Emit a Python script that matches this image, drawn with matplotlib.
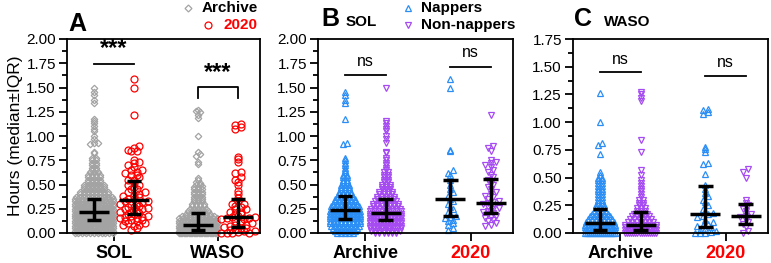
import matplotlib
matplotlib.use('Agg')
import matplotlib.pyplot as plt
from matplotlib.lines import Line2D
from matplotlib.ticker import MultipleLocator, FormatStrFormatter
import numpy as np

plt.rcParams['font.family'] = ['Liberation Sans', 'DejaVu Sans']

# ---- data (hours) ----
# dense columns are given as value levels + how many points sit on each level
lvl_b_arch = [0.0, 0.025, 0.05, 0.075, 0.1, 0.125, 0.15, 0.175, 0.2, 0.225, 0.25, 0.275, 0.3, 0.325, 0.35,
              0.375, 0.4, 0.425, 0.45, 0.475, 0.5, 0.525, 0.55, 0.575, 0.6, 0.625, 0.65, 0.675, 0.7, 0.725,
              0.75, 0.775]
cnt_sol_arch_nap = [5, 6, 7, 8, 9, 9, 9, 9, 9, 9, 8, 8, 7, 6, 6,
                    5, 4, 4, 3, 3, 3, 2, 2, 2, 2, 1, 1, 1, 1, 1,
                    1, 1]
out_sol_arch_nap = [0.92, 0.93, 1.18, 1.34, 1.37, 1.42, 1.45]
cnt_sol_arch_non = [6, 8, 9, 10, 10, 10, 10, 10, 9, 9, 8, 7, 7, 6, 5,
                    5, 4, 4, 3, 3, 3, 2, 2, 2, 2, 2, 1, 1, 1, 1,
                    1, 1]
out_sol_arch_non = [0.82, 0.84, 0.93, 0.97, 1.0, 1.05, 1.07, 1.1, 1.13, 1.15, 1.5]
sol_2020_nap = [0.03, 0.05, 0.08, 0.1, 0.12, 0.13, 0.15, 0.17, 0.18, 0.2, 0.22, 0.25, 0.27, 0.3,
                0.33, 0.35, 0.38, 0.42, 0.45, 0.5, 0.55, 0.6, 0.62, 0.65, 0.85, 0.86, 1.5, 1.59]
sol_2020_non = [0.07, 0.08, 0.1, 0.12, 0.13, 0.15, 0.17, 0.18, 0.2, 0.21, 0.22, 0.23, 0.25, 0.26,
                0.27, 0.28, 0.3, 0.31, 0.32, 0.33, 0.35, 0.37, 0.38, 0.4, 0.42, 0.45, 0.47, 0.5,
                0.52, 0.55, 0.58, 0.6, 0.63, 0.65, 0.68, 0.7, 0.72, 0.73, 0.75, 0.85, 0.88, 0.9, 1.22]

lvl_c_arch = [0.0, 0.025, 0.05, 0.075, 0.1, 0.125, 0.15, 0.175, 0.2, 0.225, 0.25, 0.275, 0.3, 0.325,
              0.35, 0.375, 0.4, 0.425, 0.45, 0.475, 0.5, 0.525, 0.55]
cnt_waso_arch_nap = [16, 14, 12, 10, 8, 7, 6, 5, 4, 3, 3, 2, 2, 2, 2, 2, 2, 2, 2, 2, 2, 1, 1]
out_waso_arch_nap = [0.71, 0.79, 0.81, 1.0, 1.26]
cnt_waso_arch_non = [16, 14, 12, 9, 7, 6, 5, 4, 3, 3, 2, 2, 2, 1, 1, 1, 1, 1, 1, 0, 0, 0, 0]
out_waso_arch_non = [0.48, 0.52, 0.57, 0.73, 0.84, 1.19, 1.22, 1.25, 1.27]
waso_2020_nap = [0.0, 0.0, 0.0, 0.01, 0.02, 0.03, 0.04, 0.05, 0.06, 0.07, 0.08, 0.1, 0.12, 0.14,
                 0.15, 0.17, 0.18, 0.2, 0.22, 0.25, 0.28, 0.3, 0.33, 0.36, 0.4, 0.43, 0.53, 0.62,
                 0.63, 0.73, 0.76, 0.78, 1.07, 1.09, 1.11, 1.12]
waso_2020_non = [0.0, 0.02, 0.05, 0.08, 0.1, 0.12, 0.14, 0.15, 0.17, 0.2, 0.22, 0.25, 0.27, 0.3,
                 0.5, 0.55, 0.58]

# median, Q1, Q3 as printed
stats_a = [(0.22, 0.13, 0.35), (0.34, 0.20, 0.54), (0.08, 0.03, 0.21), (0.16, 0.06, 0.35)]
stats_b = [(0.24, 0.14, 0.38), (0.21, 0.13, 0.35), (0.35, 0.18, 0.55), (0.31, 0.21, 0.56)]
stats_c = [(0.09, 0.03, 0.22), (0.07, 0.03, 0.19), (0.17, 0.05, 0.42), (0.15, 0.08, 0.26)]

sol_arch_nap = np.concatenate([np.repeat(lvl_b_arch, cnt_sol_arch_nap), out_sol_arch_nap])
sol_arch_non = np.concatenate([np.repeat(lvl_b_arch, cnt_sol_arch_non), out_sol_arch_non])
waso_arch_nap = np.concatenate([np.repeat(lvl_c_arch, cnt_waso_arch_nap), out_waso_arch_nap])
waso_arch_non = np.concatenate([np.repeat(lvl_c_arch, cnt_waso_arch_non), out_waso_arch_non])

pos = [1, 2, 3.6, 4.6]
ticks = [1.5, 4.1]

GRAY = '#A3A3A3'
RED = '#FF0000'
BLUE = '#2B8EF5'
PURPLE = '#A64BF2'


def swarm(values, center, dx, hw, rowh):
    vals = np.asarray(values, float)
    rows = np.round(vals / rowh).astype(int)
    xs = np.empty_like(vals)
    for r in np.unique(rows):
        idx = np.where(rows == r)[0]
        n = len(idx)
        w = min((n - 1) * dx, 2 * hw)
        xs[idx] = center + np.linspace(-w / 2, w / 2, n)
    return xs


def draw_group(ax, values, center, color, marker, ms, dx, hw, rowh):
    xs = swarm(values, center, dx, hw, rowh)
    ax.plot(xs, values, ls='none', marker=marker, ms=ms, mfc='none', mec=color, mew=0.9,
            clip_on=False, zorder=2)


def draw_stats(ax, stats):
    for p, (med, q1, q3) in zip(pos, stats):
        ax.plot([p - 0.37, p + 0.37], [med, med], color='k', lw=2.5, zorder=5, solid_capstyle='butt')
        ax.plot([p, p], [q1, q3], color='k', lw=2.5, zorder=5, solid_capstyle='butt')
        for q in (q1, q3):
            ax.plot([p - 0.18, p + 0.18], [q, q], color='k', lw=2.5, zorder=5, solid_capstyle='butt')


def style(ax, ymax, labels, colors):
    ax.set_xlim(0.33, 5.15)
    ax.set_ylim(0, ymax)
    ax.yaxis.set_major_locator(MultipleLocator(0.25))
    ax.yaxis.set_minor_locator(MultipleLocator(0.125))
    ax.yaxis.set_major_formatter(FormatStrFormatter('%.2f'))
    ax.set_xticks(ticks)
    ax.set_xticklabels(labels, fontsize=13, fontweight='bold')
    for t, c in zip(ax.get_xticklabels(), colors):
        t.set_color(c)
    ax.tick_params(axis='y', which='major', length=6, width=1.3, labelsize=11, pad=2)
    ax.tick_params(axis='y', which='minor', length=3.5, width=1.3)
    ax.tick_params(axis='x', which='major', length=6, width=1.3, pad=2.5)
    for s in ax.spines.values():
        s.set_linewidth(1.3)


fig = plt.figure(figsize=(7.71, 2.63), dpi=100)
W, H = 771, 263
axA = fig.add_axes([67 / W, 30 / H, 193 / W, 194 / H])
axB = fig.add_axes([318 / W, 30 / H, 195 / W, 194 / H])
axC = fig.add_axes([573 / W, 30 / H, 195 / W, 194 / H])

# panel A: all subjects, archive vs 2020
draw_group(axA, np.concatenate([sol_arch_nap, sol_arch_non]), pos[0], GRAY, 'D', 3.3, 0.1, 0.48, 0.025)
draw_group(axA, sol_2020_nap + sol_2020_non, pos[1], RED, 'o', 5, 0.14, 0.42, 0.04)
draw_group(axA, np.concatenate([waso_arch_nap, waso_arch_non]), pos[2], GRAY, 'D', 3.3, 0.1, 0.48, 0.025)
draw_group(axA, waso_2020_nap + waso_2020_non, pos[3], RED, 'o', 5, 0.14, 0.42, 0.04)
draw_stats(axA, stats_a)
style(axA, 2.0, ['SOL', 'WASO'], ['k', 'k'])
axA.set_ylabel('Hours (median±IQR)', fontsize=12.5, labelpad=2)

# panel B: SOL split by napping
draw_group(axB, sol_arch_nap, pos[0], BLUE, '^', 4.6, 0.1, 0.38, 0.025)
draw_group(axB, sol_arch_non, pos[1], PURPLE, 'v', 4.6, 0.1, 0.38, 0.025)
draw_group(axB, sol_2020_nap, pos[2], BLUE, '^', 4.6, 0.13, 0.38, 0.04)
draw_group(axB, sol_2020_non, pos[3], PURPLE, 'v', 4.6, 0.13, 0.38, 0.04)
draw_stats(axB, stats_b)
style(axB, 2.0, ['Archive', '2020'], ['k', RED])

# panel C: WASO split by napping
draw_group(axC, waso_arch_nap, pos[0], BLUE, '^', 4.6, 0.1, 0.38, 0.025)
draw_group(axC, waso_arch_non, pos[1], PURPLE, 'v', 4.6, 0.1, 0.38, 0.025)
draw_group(axC, waso_2020_nap, pos[2], BLUE, '^', 4.6, 0.13, 0.38, 0.04)
draw_group(axC, waso_2020_non, pos[3], PURPLE, 'v', 4.6, 0.13, 0.38, 0.04)
draw_stats(axC, stats_c)
style(axC, 1.75, ['Archive', '2020'], ['k', RED])

# significance marks
axA.plot([pos[0], pos[1]], [1.74, 1.74], color='k', lw=1.3)
axA.text(1.5, 1.78, '***', ha='center', va='bottom', fontsize=17, fontweight='bold')
axA.plot([pos[2], pos[2], pos[3], pos[3]], [1.39, 1.505, 1.505, 1.39], color='k', lw=1.3)
axA.text(4.1, 1.54, '***', ha='center', va='bottom', fontsize=17, fontweight='bold')

axB.plot([pos[0], pos[1]], [1.625, 1.625], color='k', lw=1.3)
axB.text(1.5, 1.69, 'ns', ha='center', va='bottom', fontsize=11.5)
axB.plot([pos[2], pos[3]], [1.71, 1.71], color='k', lw=1.3)
axB.text(4.1, 1.78, 'ns', ha='center', va='bottom', fontsize=11.5)

axC.plot([pos[0], pos[1]], [1.448, 1.448], color='k', lw=1.3)
axC.text(1.5, 1.50, 'ns', ha='center', va='bottom', fontsize=11.5)
axC.plot([pos[2], pos[3]], [1.418, 1.418], color='k', lw=1.3)
axC.text(4.1, 1.47, 'ns', ha='center', va='bottom', fontsize=11.5)

# panel letters / titles
fig.text(68 / W, 1 - 31 / H, 'A', fontsize=18, fontweight='bold')
fig.text(321 / W, 1 - 26 / H, 'B', fontsize=18, fontweight='bold')
fig.text(346 / W, 1 - 26 / H, 'SOL', fontsize=11, fontweight='bold')
fig.text(574 / W, 1 - 26 / H, 'C', fontsize=18, fontweight='bold')
fig.text(604 / W, 1 - 26 / H, 'WASO', fontsize=11, fontweight='bold')

# legends
def legend_entry(x_mark, y, marker, color, ms, label, x_text, tcolor, ha='left'):
    fig.add_artist(Line2D([x_mark / W], [1 - y / H], marker=marker, ms=ms, mfc='none', mec=color,
                          mew=0.9, ls='none', transform=fig.transFigure))
    fig.text(x_text / W, 1 - y / H, label, fontsize=11, fontweight='bold', color=tcolor,
             ha=ha, va='center')


legend_entry(188, 8, 'D', GRAY, 3.5, 'Archive', 258, 'k', ha='right')
legend_entry(208, 25, 'o', RED, 5, '2020', 258, RED, ha='right')
legend_entry(408, 8, '^', BLUE, 4.6, 'Nappers', 421, 'k')
legend_entry(408, 25, 'v', PURPLE, 4.6, 'Non-nappers', 421, 'k')

fig.savefig('out.png', dpi=100)
